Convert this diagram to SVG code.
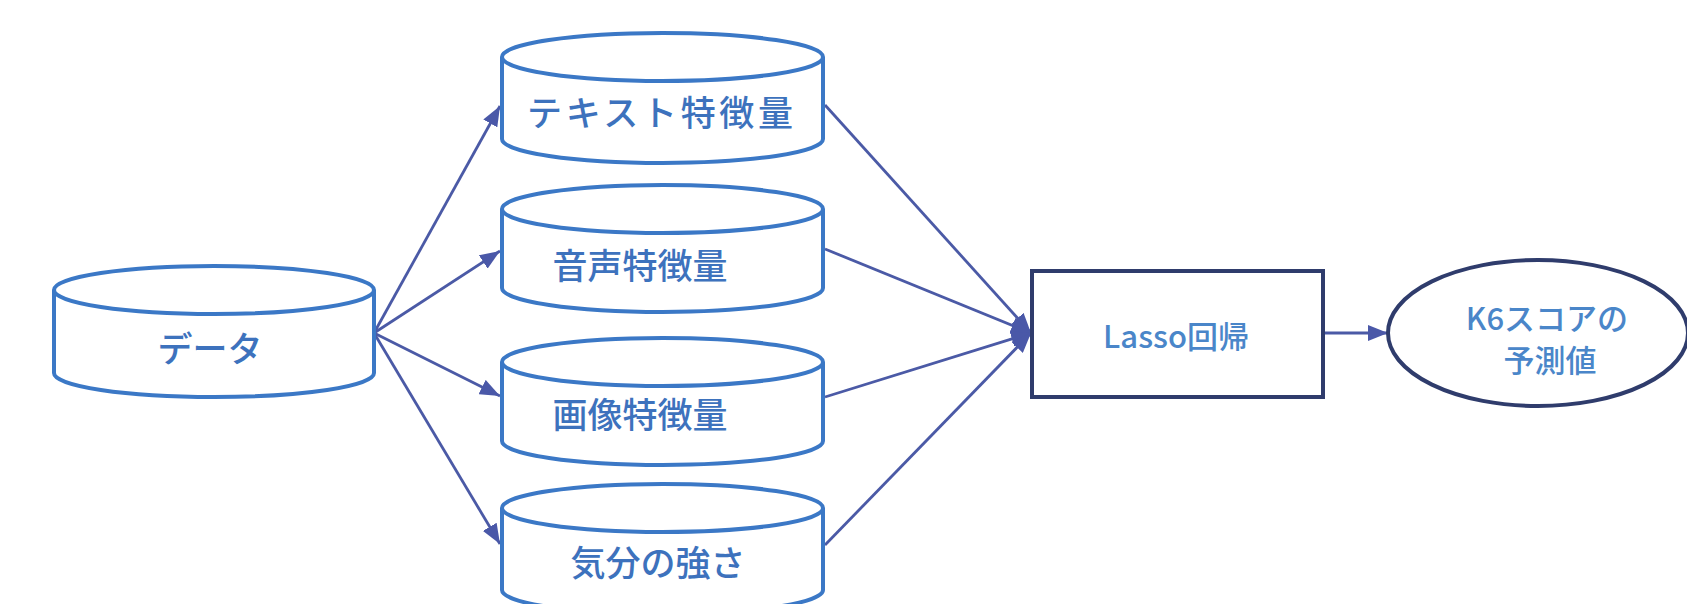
<svg xmlns="http://www.w3.org/2000/svg" width="1687" height="604" viewBox="0 0 1687 604">
<defs>
<style>
.cyl{fill:#ffffff;stroke:#3b78c6;stroke-width:4}
.lbl{font-family:"Noto Sans CJK JP","Noto Sans",sans-serif;font-size:35px;fill:#3d72bd;text-anchor:middle;dominant-baseline:central;font-weight:500}
.lbl2{font-family:"Noto Sans CJK JP","Noto Sans",sans-serif;font-size:31px;fill:#4a86c9;text-anchor:middle;dominant-baseline:central;font-weight:500}
.con{stroke:#4b5aa6;stroke-width:2.8;fill:none;marker-end:url(#ah)}
.dark{fill:#ffffff;stroke:#2f3c6c;stroke-width:4}
</style>
<marker id="ah" viewBox="0 0 20 16" refX="20" refY="8" markerWidth="20" markerHeight="16" markerUnits="userSpaceOnUse" orient="auto">
<path d="M0,0 L20,8 L0,16 z" fill="#4a58a8"/>
</marker>
</defs>
<rect width="1687" height="604" fill="#ffffff"/>
<g id="connectors">
<line class="con" x1="374" y1="333" x2="500" y2="106"/>
<line class="con" x1="374" y1="333" x2="500" y2="251"/>
<line class="con" x1="374" y1="333" x2="500" y2="396"/>
<line class="con" x1="374" y1="333" x2="500" y2="544"/>
<line class="con" x1="825" y1="105" x2="1031" y2="333"/>
<line class="con" x1="825" y1="249" x2="1031" y2="333"/>
<line class="con" x1="825" y1="397" x2="1031" y2="333"/>
<line class="con" x1="825" y1="545" x2="1031" y2="333"/>
<line class="con" x1="1323" y1="333" x2="1388" y2="333"/>
</g>
<g id="data">
<path class="cyl" d="M54,290 V373 A160,24 0 0 0 374,373 V290"/>
<ellipse class="cyl" cx="214" cy="290" rx="160" ry="24"/>
<text class="lbl" x="210" y="346">データ</text>
</g>
<g id="text-feat">
<path class="cyl" d="M502,57 V139 A160.5,24 0 0 0 823,139 V57"/>
<ellipse class="cyl" cx="662.5" cy="57" rx="160.5" ry="24"/>
<text class="lbl" x="660" y="110" textLength="266">テキスト特徴量</text>
</g>
<g id="audio-feat">
<path class="cyl" d="M502,209 V288 A160.5,24 0 0 0 823,288 V209"/>
<ellipse class="cyl" cx="662.5" cy="209" rx="160.5" ry="24"/>
<text class="lbl" x="640" y="263">音声特徴量</text>
</g>
<g id="image-feat">
<path class="cyl" d="M502,362 V441 A160.5,24 0 0 0 823,441 V362"/>
<ellipse class="cyl" cx="662.5" cy="362" rx="160.5" ry="24"/>
<text class="lbl" x="640" y="412">画像特徴量</text>
</g>
<g id="mood">
<path class="cyl" d="M502,508 V590 A160.5,24 0 0 0 823,590 V508"/>
<ellipse class="cyl" cx="662.5" cy="508" rx="160.5" ry="24"/>
<text class="lbl" x="658" y="560">気分の強さ</text>
</g>
<g id="lasso">
<rect class="dark" x="1032" y="271" width="291" height="126"/>
<text class="lbl2" x="1176" y="334">Lasso回帰</text>
</g>
<g id="k6">
<ellipse class="dark" cx="1538" cy="333" rx="150" ry="73"/>
<text class="lbl2" x="1547" y="316">K6スコアの</text>
<text class="lbl2" x="1550" y="358">予測値</text>
</g>
</svg>
